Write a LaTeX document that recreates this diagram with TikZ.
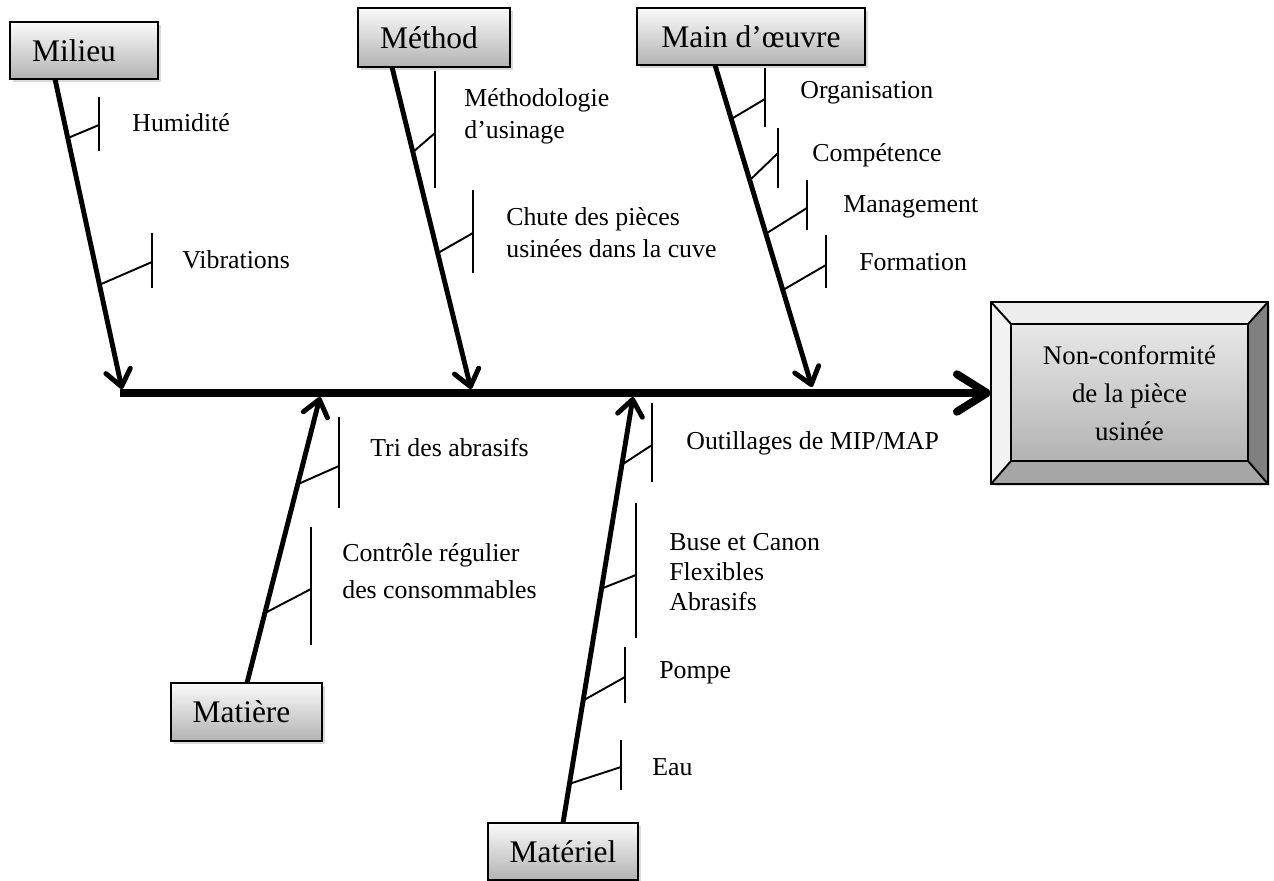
\documentclass[tikz,border=0pt]{standalone}
\usepackage{fontspec}
\setmainfont{Liberation Serif}
\usetikzlibrary{arrows.meta,shadows,calc}
\begin{document}
\begin{tikzpicture}[x=0.02cm,y=-0.02cm,
  cat/.style={draw,line width=1.3pt,top color=black!2,bottom color=black!30,
    drop shadow={shadow xshift=1.5pt,shadow yshift=-1.5pt,opacity=0.3},
    inner sep=0pt,font=\fontsize{17.9}{21}\selectfont},
  bone/.style={line width=2.8pt,-{Straight Barb[round,length=0.32cm,width=0.5cm]}},
  spine/.style={line width=4.5pt,-{Straight Barb[round,length=0.6cm,width=0.75cm]}},
  rib/.style={line width=1.1pt},
  lbl/.style={anchor=west,inner sep=0pt,align=left,font=\fontsize{14.7}{18.1}\selectfont},
]
\useasboundingbox (0,0) rectangle (1274,881);

% effect box
\node[draw,line width=1.3pt,minimum width=5.5cm,minimum height=3.6cm,inner sep=0pt,
  fill=white,drop shadow={shadow xshift=1.5pt,shadow yshift=-1.5pt,opacity=0.3}] (effect) at (1129.5,393) {};
\coordinate (iNW) at ($(effect.north west)+(20,22)$);
\coordinate (iNE) at ($(effect.north east)+(-20,22)$);
\coordinate (iSW) at ($(effect.south west)+(20,-23)$);
\coordinate (iSE) at ($(effect.south east)+(-20,-23)$);
\fill[black!7] (effect.north west) -- (effect.north east) -- (iNE) -- (iNW) -- cycle;
\fill[black!5] (effect.north west) -- (iNW) -- (iSW) -- (effect.south west) -- cycle;
\fill[black!50] (effect.north east) -- (iNE) -- (iSE) -- (effect.south east) -- cycle;
\fill[black!35] (effect.south west) -- (iSW) -- (iSE) -- (effect.south east) -- cycle;
\shade[top color=black!9,bottom color=black!30] (iNW) rectangle (iSE);
\draw[line width=1.1pt] (iNW) rectangle (iSE);
\draw[line width=1.1pt] (effect.north west) -- (iNW) (effect.north east) -- (iNE)
  (effect.south west) -- (iSW) (effect.south east) -- (iSE);
\draw[line width=1.3pt] (effect.north west) rectangle (effect.south east);
\node[align=center,inner sep=0pt,font=\fontsize{15.3}{21.5}\selectfont] (effecttext) at (1129.5,393)
  {Non-conformité\\de la pièce\\usinée};

% category boxes
\node[cat,minimum width=2.96cm,minimum height=1.14cm] (milieu) at (84,50.5) {Milieu\hspace*{0.4cm}};
\node[cat,minimum width=3.04cm,minimum height=1.18cm] (methode) at (434,37.5) {Méthod\hspace*{0.2cm}};
\node[cat,minimum width=4.56cm,minimum height=1.14cm] (mo) at (751,36.5) {Main d’œuvre};
\node[cat,minimum width=3.02cm,minimum height=1.16cm] (matiere) at (246.5,712) {Matière\hspace*{0.2cm}};
\node[cat,minimum width=3.0cm,minimum height=1.14cm] (materiel) at (563,851.5) {Matériel};

% spine
\coordinate (spineL) at (120,393);
\draw[spine] (spineL) -- (effect.west);

% main bones
\coordinate (milieuS) at (55,79);    \coordinate (milieuT) at (122,389);
\coordinate (methodeS) at (392,67);  \coordinate (methodeT) at (471,389);
\coordinate (moS) at (715,65);       \coordinate (moT) at (812,387);
\coordinate (matiereS) at (247,683); \coordinate (matiereT) at (320,397);
\coordinate (materielS) at (563,823);\coordinate (materielT) at (633,397);
\draw[bone] (milieuS) -- (milieuT);
\draw[bone] (methodeS) -- (methodeT);
\draw[bone] (moS) -- (moT);
\draw[bone] (matiereS) -- (matiereT);
\draw[bone] (materielS) -- (materielT);

% ribs
\foreach \n/\sx/\sy/\vx/\my/\ty/\by in {
  hum/68/138/99/125/97/151,
  vib/99/285/152/262/233/288,
  meth/413/152/435/133/71/188,
  chute/438/253/473/233/190/273,
  org/733/118/765/99/68/127,
  comp/750/180/778/153/128/188,
  mgmt/767/233/807/208/180/230,
  form/783/290/826/265/235/288,
  tri/296/485/339/466/417/508,
  ctrl/265/613/311/589/527/645,
  outil/623/464/652/445/403/482,
  buse/603/588/636/575/503/638,
  pompe/584/700/625/677/647/703,
  eau/572/783/621/767/740/790}{
  \coordinate (\n S) at (\sx,\sy);
  \coordinate (\n M) at (\vx,\my);
  \coordinate (\n T) at (\vx,\ty);
  \coordinate (\n B) at (\vx,\by);
  \draw[rib] (\n T) -- (\n B);
  \draw[rib] (\n S) -- (\n M);
}

% labels
\node[lbl] (humL) at (132,123) {Humidité};
\node[lbl] (vibL) at (182,260) {Vibrations};
\node[lbl] (methL) at (464,116.5) {Méthodologie\\d’usinage};
\node[lbl] (chuteL) at (506,233) {Chute des pièces\\usinées dans la cuve};
\node[lbl] (orgL) at (800,93) {Organisation};
\node[lbl] (compL) at (812,155) {Compétence};
\node[lbl] (mgmtL) at (843,207) {Management};
\node[lbl] (formL) at (859,262) {Formation};
\node[lbl] (triL) at (370,448) {Tri des abrasifs};
\node[lbl,font=\fontsize{14.7}{21}\selectfont] (ctrlL) at (342,571.5) {Contrôle régulier\\des consommables};
\node[lbl] (outilL) at (686,443) {Outillages de MIP/MAP};
\node[lbl,font=\fontsize{14.7}{17.3}\selectfont] (buseL) at (669,572) {Buse et Canon\\Flexibles\\Abrasifs};
\node[lbl] (pompeL) at (659,673) {Pompe};
\node[lbl] (eauL) at (652,767) {Eau};
\end{tikzpicture}
\end{document}
